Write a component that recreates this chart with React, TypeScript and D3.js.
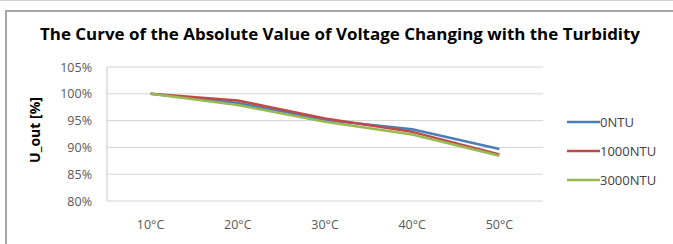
import React from 'react';
import * as d3 from 'd3';

// chart data
const categories = ['10°C', '20°C', '30°C', '40°C', '50°C'];
const series0NTU = [100, 98.3, 95.1, 93.4, 89.7];
const series1000NTU = [100, 98.75, 95.4, 92.9, 88.7];
const series3000NTU = [100, 97.9, 94.8, 92.4, 88.45];
const yTicks = [80, 85, 90, 95, 100, 105];

const seriesList = [
  { name: '0NTU', values: series0NTU, color: '#4a7ebb' },
  { name: '1000NTU', values: series1000NTU, color: '#be4b48' },
  { name: '3000NTU', values: series3000NTU, color: '#98b954' },
];

const width = 673;
const height = 244;
const plotLeft = 107;
const plotRight = 543;
const plotTop = 67;
const plotBottom = 201;

const font = '"Open Sans", "Noto Sans", sans-serif';

const App: React.FC = () => {
  const x = d3.scaleBand<string>()
    .domain(categories)
    .range([plotLeft, plotRight]);

  const y = d3.scaleLinear()
    .domain([80, 105])
    .range([plotBottom, plotTop]);

  const line = d3.line<number>()
    .x((_, i) => (x(categories[i]) || 0) + x.bandwidth() / 2)
    .y(d => y(d));

  return (
    <svg width={width} height={height} style={{ position: 'absolute', left: 0, top: 0 }}>
      <rect width={width} height={height} fill="#fff" />
      {/* page edge and chart frame */}
      <line x1={0} x2={width} y1={0.5} y2={0.5} stroke="#d0d0d0" />
      <path d={`M6,${height} V11 H${width}`} fill="none" stroke="#a6a6a6" strokeWidth={2} />

      <text x={340} y={40} textAnchor="middle" fontFamily={font} fontWeight="bold"
        fontSize={16} fill="#000" textLength={600} lengthAdjust="spacingAndGlyphs">
        The Curve of the Absolute Value of Voltage Changing with the Turbidity
      </text>

      {/* gridlines */}
      {yTicks.map(t => (
        <line key={t} x1={plotLeft} x2={plotRight} y1={y(t)} y2={y(t)} stroke="#d4d4d4" strokeWidth={1} />
      ))}
      <line x1={plotLeft} x2={plotLeft} y1={plotTop} y2={plotBottom} stroke="#c8c8c8" strokeWidth={1} />

      {/* y tick labels */}
      {yTicks.map(t => (
        <text key={t} x={92} y={y(t) + 4.5} textAnchor="end" fontFamily={font} fontSize={12.5} fill="#595959">
          {`${t}%`}
        </text>
      ))}

      <text transform="translate(40,130) rotate(-90)" textAnchor="middle" fontFamily={font}
        fontWeight="bold" fontSize={14} fill="#000">
        U_out [%]
      </text>

      {/* x labels */}
      {categories.map(c => (
        <text key={c} x={(x(c) || 0) + x.bandwidth() / 2} y={229} textAnchor="middle"
          fontFamily={font} fontSize={12.5} fill="#595959">
          {c}
        </text>
      ))}

      {/* series */}
      {seriesList.map(s => (
        <path key={s.name} d={line(s.values) || ''} fill="none" stroke={s.color}
          strokeWidth={2.5} strokeLinejoin="round" />
      ))}

      {/* legend */}
      {seriesList.map((s, i) => {
        const ly = 122 + i * 29;
        return (
          <g key={s.name}>
            <line x1={567} x2={600} y1={ly} y2={ly} stroke={s.color} strokeWidth={2.5} />
            <text x={600} y={ly + 4.5} fontFamily={font} fontSize={13} fill="#404040">{s.name}</text>
          </g>
        );
      })}
    </svg>
  );
};

export default App;
